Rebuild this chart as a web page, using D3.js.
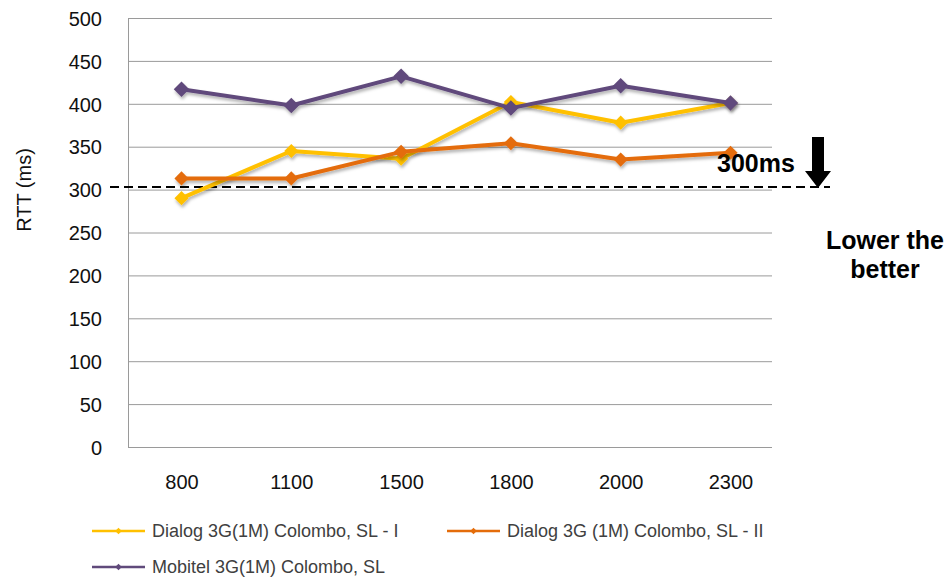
<!DOCTYPE html>
<html>
<head>
<meta charset="utf-8">
<script src="https://cdn.jsdelivr.net/npm/d3@7"></script>
<style>
  body { margin: 0; background: #fff; }
  text { font-family: "Liberation Sans", Arial, sans-serif; }
</style>
</head>
<body>
<svg id="chart" width="951" height="579"></svg>
<script>
// data
let categories = ['800', '1100', '1500', '1800', '2000', '2300']
let dialog1 = [290, 345, 336, 402, 378, 401]
let dialog2 = [313, 313, 344, 354, 335, 343]
let mobitel = [417, 398, 432, 395, 421, 401]
let yTicks = [0, 50, 100, 150, 200, 250, 300, 350, 400, 450, 500]
let threshold = 303

let series = [
  {name: 'Dialog 3G(1M) Colombo, SL - I', values: dialog1, color: '#FFC000', r: 100},
  {name: 'Dialog 3G (1M) Colombo, SL - II', values: dialog2, color: '#E46C0A', r: 100},
  {name: 'Mobitel 3G(1M) Colombo, SL', values: mobitel, color: '#604A7B', r: 121}
]

let svg = d3.select('#chart')

let defs = svg.append('defs')
defs.append('filter').attr('id', 'shadow')
    .attr('x', '-20%').attr('y', '-20%').attr('width', '140%').attr('height', '160%')
  .append('feDropShadow')
    .attr('dx', 1).attr('dy', 2.5).attr('stdDeviation', 1.6)
    .attr('flood-color', '#000').attr('flood-opacity', 0.3)

let left = 128, right = 772
let yScale = d3.scaleLinear().domain([0, 500]).range([447, 18])
let xScale = d3.scalePoint().domain(categories).range([181.5, 730.5])

// y axis + gridlines
let yAxis = svg.append('g')
  .attr('transform', `translate(${left},0)`)
  .call(d3.axisLeft(yScale).tickValues(yTicks).tickSize(-(right - left)).tickSizeOuter(0).tickPadding(26))
yAxis.select('.domain').attr('stroke', '#9a9a9a')
yAxis.selectAll('.tick line').attr('stroke', '#9a9a9a')
yAxis.selectAll('.tick text')
  .attr('dy', '0.36em')
  .style('font-size', '20px')
  .style('fill', '#111')

// x axis, labels only
let xAxis = svg.append('g')
  .attr('transform', 'translate(0,447)')
  .call(d3.axisBottom(xScale).tickSize(0).tickPadding(28))
xAxis.select('.domain').remove()
xAxis.selectAll('.tick text')
  .style('font-size', '20px')
  .style('fill', '#111')

svg.append('text')
  .attr('transform', 'translate(31, 190) rotate(-90)')
  .style('text-anchor', 'middle')
  .style('font-size', '20px')
  .style('fill', '#111')
  .text('RTT (ms)')

// threshold line
svg.append('line')
  .attr('x1', 110).attr('x2', 830)
  .attr('y1', yScale(threshold)).attr('y2', yScale(threshold))
  .attr('stroke', '#000').attr('stroke-width', 2)
  .attr('stroke-dasharray', '9,5')

// the series
let line = d3.line()
  .x((d, i) => xScale(categories[i]))
  .y(d => yScale(d))

let diamond = d3.symbol().type(d3.symbolSquare)

series.forEach(s => {
  let g = svg.append('g').attr('filter', 'url(#shadow)')
  g.append('path')
    .datum(s.values)
    .attr('d', line)
    .attr('fill', 'none')
    .attr('stroke', s.color)
    .attr('stroke-width', 4)
    .attr('stroke-linejoin', 'round')
  g.selectAll('path.pt')
    .data(s.values)
    .enter()
      .append('path')
      .attr('class', 'pt')
      .attr('d', diamond.size(s.r))
      .attr('transform', (d, i) => `translate(${xScale(categories[i])},${yScale(d)}) rotate(45)`)
      .attr('fill', s.color)
})

// annotation
svg.append('text')
  .attr('x', 717).attr('y', 172)
  .style('font-size', '25px').style('font-weight', 'bold')
  .text('300ms')

svg.append('path')
  .attr('d', 'M812,137 L824,137 L824,171 L831,171 L818,188 L805,171 L812,171 Z')
  .attr('fill', '#000')

svg.append('text')
  .attr('x', 885).attr('y', 249)
  .style('text-anchor', 'middle')
  .style('font-size', '25px').style('font-weight', 'bold')
  .text('Lower the')
svg.append('text')
  .attr('x', 885).attr('y', 278)
  .style('text-anchor', 'middle')
  .style('font-size', '25px').style('font-weight', 'bold')
  .text('better')

// legend
let legendPos = [[92, 531], [447, 531], [92, 567]]
let leg = svg.append('g')
  .selectAll('g')
  .data(series)
  .enter()
    .append('g')
    .attr('transform', (d, i) => `translate(${legendPos[i][0]},${legendPos[i][1]})`)
leg.append('line')
  .attr('x1', 0).attr('x2', 53)
  .attr('stroke', d => d.color).attr('stroke-width', 2.5)
leg.append('path')
  .attr('d', diamond.size(22))
  .attr('transform', 'translate(26.5,0) rotate(45)')
  .attr('fill', d => d.color)
leg.append('text')
  .attr('x', 60).attr('dy', '0.36em')
  .style('font-size', '18px')
  .style('fill', '#404040')
  .text(d => d.name)
</script>
</body>
</html>
